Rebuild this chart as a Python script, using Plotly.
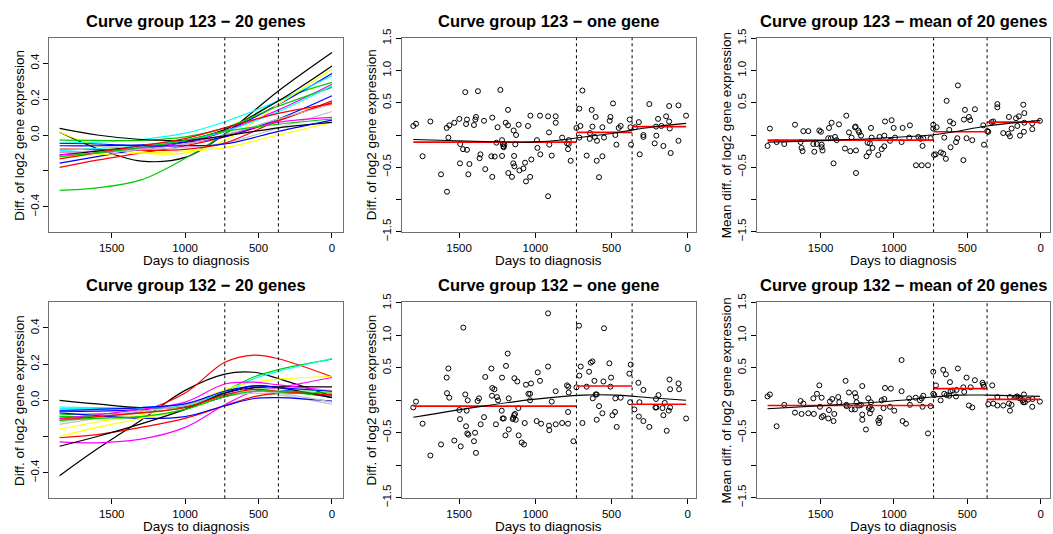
import plotly.graph_objects as go

FONT = "Liberation Sans, Arial, Helvetica, sans-serif"
# R default palette, recycled over the 20 genes
R_COLORS = ["black", "red", "#00CD00", "blue", "cyan", "magenta", "yellow", "#BEBEBE"]
BREAKS = [730, 365]

# fitted curves, curve group 123 (values at CURVE_DAYS_123)
CURVE_DAYS_123 = [1855, 1600, 1300, 1000, 730, 365, 0]
CURVES_123 = [
    [0.015, -0.075, -0.145, -0.125, 0.005, 0.245, 0.459],
    [-0.18, -0.14, -0.10, -0.06, -0.01, 0.08, 0.19],
    [-0.309, -0.295, -0.25, -0.13, 0.005, 0.19, 0.293],
    [-0.157, -0.12, -0.08, -0.04, 0.02, 0.17, 0.343],
    [-0.046, -0.04, -0.025, 0.01, 0.074, 0.19, 0.33],
    [-0.096, -0.09, -0.07, -0.04, 0.02, 0.14, 0.283],
    [0.015, -0.06, -0.10, -0.10, -0.03, 0.17, 0.367],
    [-0.096, -0.09, -0.08, -0.07, -0.045, 0.04, 0.131],
    [-0.111, -0.09, -0.06, -0.03, 0.03, 0.19, 0.385],
    [-0.078, -0.08, -0.085, -0.08, -0.045, 0.08, 0.181],
    [-0.028, -0.03, -0.03, -0.01, 0.04, 0.16, 0.265],
    [-0.06, -0.06, -0.055, -0.04, -0.01, 0.09, 0.219],
    [-0.087, -0.075, -0.06, -0.03, 0.02, 0.13, 0.274],
    [-0.111, -0.10, -0.08, -0.05, 0.0, 0.07, 0.098],
    [-0.124, -0.11, -0.10, -0.09, -0.07, 0.0, 0.07],
    [-0.12, -0.10, -0.08, -0.05, 0.0, 0.09, 0.17],
    [0.037, 0.0, -0.025, -0.03, -0.005, 0.04, 0.07],
    [-0.133, -0.10, -0.06, -0.02, 0.04, 0.12, 0.175],
    [-0.12, -0.10, -0.07, -0.03, 0.02, 0.06, 0.089],
    [-0.046, -0.05, -0.06, -0.06, -0.05, 0.02, 0.083],
]

# fitted curves, curve group 132
CURVE_DAYS_132 = [1855, 1600, 1300, 1000, 730, 530, 365, 0]
CURVES_132 = [
    [-0.417, -0.27, -0.11, 0.055, 0.145, 0.155, 0.12, 0.024],
    [-0.10, -0.09, -0.06, 0.04, 0.21, 0.25, 0.23, 0.13],
    [-0.09, -0.09, -0.09, -0.05, 0.05, 0.13, 0.17, 0.228],
    [-0.06, -0.06, -0.05, -0.03, 0.04, 0.07, 0.06, 0.015],
    [-0.037, -0.04, -0.04, -0.02, 0.04, 0.12, 0.16, 0.231],
    [-0.23, -0.235, -0.215, -0.15, -0.025, 0.05, 0.07, 0.126],
    [-0.16, -0.12, -0.08, -0.03, 0.06, 0.10, 0.117, 0.133],
    [-0.133, -0.10, -0.07, -0.04, 0.02, 0.04, 0.03, -0.022],
    [0.0, -0.02, -0.04, -0.035, 0.02, 0.07, 0.075, 0.074],
    [-0.207, -0.19, -0.15, -0.10, -0.03, 0.02, 0.04, 0.03],
    [-0.08, -0.075, -0.07, -0.04, 0.03, 0.05, 0.045, 0.024],
    [-0.07, -0.085, -0.10, -0.09, -0.03, 0.01, 0.015, -0.004],
    [-0.045, -0.045, -0.045, -0.03, 0.03, 0.06, 0.06, 0.05],
    [-0.10, -0.08, -0.05, -0.01, 0.09, 0.10, 0.085, 0.052],
    [-0.20, -0.15, -0.10, -0.05, 0.03, 0.06, 0.06, 0.056],
    [-0.12, -0.09, -0.06, -0.03, 0.03, 0.05, 0.04, -0.01],
    [-0.254, -0.20, -0.13, -0.05, 0.04, 0.08, 0.07, 0.015],
    [-0.11, -0.09, -0.07, -0.04, 0.03, 0.06, 0.05, 0.03],
    [-0.11, -0.10, -0.09, -0.05, 0.02, 0.05, 0.05, 0.04],
    [-0.055, -0.05, -0.04, -0.02, 0.05, 0.08, 0.07, 0.05],
]

# (days to diagnosis, diff. of log2 expression)
ONE_GENE_123 = [
    (1800, 0.14), (1782, 0.175), (1739, -0.33), (1688, 0.21), (1618, -0.61), (1581, 0.11),
    (1579, -0.88), (1570, -0.04), (1564, 0.15), (1531, 0.19), (1498, 0.25), (1492, -0.14),
    (1474, -0.22), (1494, -0.44), (1459, 0.665), (1454, 0.17), (1448, 0.24), (1448, -0.23),
    (1439, -0.61), (1432, -0.45), (1402, 0.155), (1393, 0.24), (1389, 0.28), (1376, 0.68),
    (1365, -0.36), (1360, -0.30), (1336, 0.22), (1328, -0.53), (1288, -0.33), (1282, 0.27),
    (1282, -0.65), (1266, -0.335), (1255, -0.12), (1247, 0.12), (1229, 0.70), (1218, -0.325),
    (1218, -0.08), (1212, -0.14), (1209, -0.175), (1207, -0.19), (1203, -0.15), (1194, 0.19),
    (1179, 0.39), (1179, 0.15), (1177, -0.59), (1153, -0.65), (1144, -0.44), (1142, 0.07),
    (1139, -0.325), (1137, -0.485), (1131, -0.145), (1126, 0.0), (1109, 0.16), (1104, -0.55),
    (1078, -0.52), (1067, -0.43), (1061, -0.72), (1048, 0.14), (1034, -0.65), (1032, 0.30),
    (1026, -0.38), (989, -0.08), (986, -0.20), (969, 0.30), (967, -0.30), (916, 0.29),
    (916, -0.95), (910, 0.04), (908, -0.15), (892, -0.32), (866, 0.29), (866, 0.19),
    (824, -0.04), (792, -0.13), (781, -0.14), (785, -0.22), (781, -0.08), (768, -0.40),
    (730, 0.11), (711, 0.41), (704, 0.14), (711, -0.04), (691, 0.69), (663, -0.32),
    (643, -0.06), (641, 0.03), (630, 0.39), (625, 0.13), (610, -0.03), (604, 0.28),
    (597, -0.40), (595, -0.09), (582, -0.655), (560, 0.12), (560, -0.33), (549, -0.04),
    (507, 0.28), (512, 0.22), (490, 0.49), (475, 0.0), (468, -0.15), (453, 0.11),
    (440, 0.14), (381, 0.24), (376, 0.12), (372, -0.15), (346, 0.12), (321, 0.20),
    (315, -0.30), (291, 0.0), (291, -0.03), (252, 0.48), (217, -0.13), (208, 0.13),
    (206, -0.01), (195, 0.25), (173, 0.14), (160, -0.17), (142, 0.29), (122, 0.45),
    (122, 0.21), (118, 0.10), (112, -0.28), (61, -0.09), (61, 0.46), (11, 0.30),
]

MEAN_123 = [
    (1862, -0.17), (1846, 0.10), (1800, -0.11), (1748, -0.14), (1675, 0.16), (1637, -0.11),
    (1630, -0.20), (1623, -0.25), (1618, 0.06), (1584, 0.06), (1550, -0.14), (1543, -0.26),
    (1527, -0.14), (1509, 0.07), (1498, 0.05), (1493, -0.15), (1493, -0.19), (1487, -0.24),
    (1448, -0.05), (1443, 0.11), (1430, -0.05), (1425, 0.19), (1412, -0.44), (1402, -0.03),
    (1391, -0.08), (1375, 0.165), (1334, -0.21), (1325, 0.30), (1307, 0.04), (1298, -0.25),
    (1289, -0.04), (1266, 0.12), (1262, 0.13), (1259, -0.24), (1259, -0.59), (1243, 0.07),
    (1237, 0.04), (1225, -0.01), (1180, -0.12), (1171, -0.27), (1164, -0.13), (1187, -0.33),
    (1157, 0.11), (1152, -0.04), (1146, -0.20), (1107, -0.31), (1098, -0.03), (1084, -0.22),
    (1066, -0.01), (1066, -0.175), (1061, 0.21), (1027, -0.09), (1016, 0.23), (1002, 0.11),
    (993, -0.04), (948, -0.11), (941, 0.11), (891, 0.15), (896, -0.04), (850, -0.47),
    (834, -0.03), (818, -0.06), (811, -0.47), (805, -0.17), (800, -0.05), (768, -0.47),
    (750, -0.05), (732, 0.16), (732, 0.10), (727, -0.31), (716, -0.30), (709, 0.12),
    (680, -0.27), (664, -0.29), (657, -0.04), (646, -0.37), (641, 0.53), (623, 0.08),
    (618, 0.21), (614, -0.19), (596, 0.18), (577, -0.11), (568, -0.05), (564, 0.77),
    (527, -0.39), (523, 0.24), (516, 0.39), (505, -0.05), (489, 0.28), (480, 0.23),
    (466, -0.08), (448, 0.40), (391, 0.15), (386, -0.15), (364, 0.06), (357, 0.05),
    (334, 0.20), (323, 0.21), (295, 0.48), (295, 0.43), (255, 0.03), (220, 0.02),
    (216, 0.28), (209, -0.02), (198, 0.10), (168, 0.26), (159, 0.14), (148, 0.29),
    (141, -0.01), (118, 0.47), (111, 0.34), (111, 0.19), (114, 0.05), (57, 0.18),
    (57, 0.09), (5, 0.22),
]

ONE_GENE_132 = [
    (1800, -0.11), (1782, -0.02), (1739, -0.36), (1688, -0.85), (1618, -0.68), (1581, 0.35),
    (1579, 0.11), (1570, 0.49), (1564, 0.04), (1531, -0.62), (1498, -0.15), (1494, -0.29),
    (1489, -0.71), (1472, 1.12), (1459, 0.09), (1454, -0.40), (1450, -0.16), (1446, -0.51),
    (1439, -0.53), (1443, 0.0), (1402, -0.63), (1395, -0.50), (1389, -0.81), (1378, -0.01),
    (1369, 0.03), (1358, -0.37), (1336, -0.26), (1328, 0.36), (1288, 0.49), (1282, 0.19),
    (1268, 0.17), (1284, 0.07), (1258, -0.37), (1251, 0.05), (1244, 0.0), (1220, -0.16),
    (1218, 0.35), (1214, -0.28), (1207, -0.28), (1196, -0.54), (1192, 0.53), (1181, 0.72),
    (1174, 0.03), (1174, -0.45), (1148, -0.29), (1144, -0.27), (1139, -0.23), (1137, 0.34),
    (1133, -0.21), (1128, -0.30), (1118, 0.29), (1111, -0.12), (1109, -0.54), (1089, -0.65),
    (1074, -0.68), (1069, -0.35), (1061, 0.24), (1045, 0.10), (1034, 0.10), (1034, 0.0),
    (1028, 0.26), (991, -0.32), (984, 0.43), (969, 0.30), (962, -0.36), (916, 1.34),
    (916, 0.52), (910, -0.39), (908, -0.46), (892, -0.02), (866, 0.14), (866, -0.37),
    (824, -0.35), (792, 0.23), (783, 0.21), (781, 0.12), (785, -0.18), (785, -0.36),
    (750, -0.63), (730, 0.20), (713, 1.15), (711, 0.38), (702, 0.52), (691, -0.35),
    (663, 0.21), (647, 0.44), (636, 0.58), (625, 0.60), (623, 0.03), (612, 0.30),
    (604, 0.09), (597, 0.09), (597, -0.30), (582, -0.09), (560, -0.20), (549, 1.11),
    (553, 0.29), (507, 0.21), (514, 0.57), (503, 0.35), (494, -0.23), (477, -0.18),
    (475, 0.03), (466, -0.41), (440, 0.04), (383, 0.41), (374, 0.55), (378, -0.03),
    (350, -0.14), (324, 0.27), (317, -0.03), (321, -0.25), (291, 0.16), (291, -0.32),
    (252, -0.41), (208, 0.02), (192, 0.08), (212, -0.11), (206, -0.11), (166, -0.12),
    (160, -0.23), (151, -0.04), (138, -0.47), (125, -0.16), (120, 0.32), (116, 0.17),
    (116, -0.11), (61, 0.26), (57, 0.17), (11, -0.28),
]

MEAN_132 = [
    (1862, 0.06), (1846, 0.09), (1800, -0.40), (1748, -0.07), (1675, -0.19), (1637, -0.01),
    (1618, -0.05), (1630, -0.21), (1584, -0.20), (1546, -0.21), (1550, 0.03), (1525, 0.10),
    (1509, 0.23), (1505, -0.10), (1493, 0.04), (1493, -0.26), (1482, -0.24), (1443, -0.15),
    (1437, -0.02), (1421, 0.02), (1448, -0.28), (1412, -0.32), (1407, -0.21), (1380, 0.05),
    (1373, -0.03), (1330, 0.30), (1325, -0.07), (1323, -0.09), (1307, 0.12), (1289, -0.14),
    (1266, 0.11), (1259, 0.05), (1255, -0.03), (1266, -0.14), (1237, -0.08), (1225, -0.07),
    (1216, 0.22), (1216, -0.22), (1216, -0.30), (1191, -0.45), (1175, 0.03), (1171, -0.12),
    (1164, -0.10), (1157, -0.03), (1152, -0.14), (1164, -0.20), (1107, -0.31), (1102, -0.35),
    (1096, -0.27), (1084, 0.0), (1066, 0.02), (1071, -0.12), (1061, 0.19), (1021, 0.18),
    (1027, -0.10), (998, -0.16), (948, 0.62), (948, 0.14), (941, -0.32), (918, -0.36),
    (896, 0.03), (891, -0.07), (852, 0.04), (823, 0.0), (811, 0.03), (805, -0.10),
    (800, 0.07), (768, -0.51), (750, -0.09), (732, 0.44), (714, 0.23), (732, 0.10),
    (725, 0.08), (682, 0.0), (664, 0.47), (657, 0.10), (646, 0.40), (641, 0.08),
    (623, 0.07), (618, 0.28), (614, 0.14), (600, 0.15), (573, 0.16), (577, 0.06),
    (564, 0.49), (527, 0.20), (521, 0.13), (505, 0.35), (489, -0.08), (477, 0.20),
    (466, -0.11), (448, 0.31), (396, 0.27), (391, 0.24), (386, 0.21), (357, -0.06),
    (330, 0.23), (323, -0.05), (295, 0.05), (295, -0.08), (255, -0.08), (216, -0.05),
    (209, 0.05), (198, -0.07), (209, -0.16), (168, 0.05), (159, 0.06), (150, 0.04),
    (141, 0.03), (123, 0.0), (114, 0.09), (118, -0.03), (107, -0.03), (86, 0.01),
    (57, -0.10), (55, 0.02), (5, -0.02),
]

# interval means (red steps): [start..730], [730..365], [365..end]
STEP_123_ONE = [-0.11, 0.04, 0.13]
STEP_123_MEAN = [-0.08, 0.05, 0.20]
STEP_132_ONE = [-0.09, 0.22, -0.06]
STEP_132_MEAN = [-0.08, 0.18, 0.015]

# smooth fit (black) through the points
SMOOTH_123_ONE = [(1800, -0.07), (1340, -0.10), (1035, -0.11), (795, -0.07), (685, -0.03),
                  (510, 0.02), (357, 0.08), (182, 0.14), (11, 0.18)]
SMOOTH_123_MEAN = [(1862, -0.11), (1400, -0.08), (950, -0.03), (740, 0.0), (590, 0.05),
                   (365, 0.14), (0, 0.23)]
SMOOTH_132_ONE = [(1800, -0.26), (1340, -0.09), (1013, 0.015), (685, 0.08), (466, 0.08),
                  (247, 0.04), (11, 0.0)]
SMOOTH_132_MEAN = [(1862, -0.13), (1400, -0.07), (948, 0.0), (739, 0.05), (550, 0.08),
                   (364, 0.08), (5, 0.06)]

TITLES = [
    "Curve group 123 \u2212 20 genes", "Curve group 123 \u2212 one gene", "Curve group 123 \u2212 mean of 20 genes",
    "Curve group 132 \u2212 20 genes", "Curve group 132 \u2212 one gene", "Curve group 132 \u2212 mean of 20 genes",
]
YTITLES = ["Diff. of log2 gene expression", "Diff. of log2 gene expression",
           "Mean diff. of log2 gene expression"]

W, H = 1053, 534
COLS = [(49.3, 343.3), (401.7, 695.7), (756.7, 1050.0)]
ROWS = [(37.7, 232.3), (302.3, 498.3)]
XRANGES = [[1925, -77], [1876, -52], [1936, -64]]

fig = go.Figure()
annotations = []
shapes = []
layout_axes = {}

scatter_sets = {1: (ONE_GENE_123, STEP_123_ONE, SMOOTH_123_ONE),
                2: (MEAN_123, STEP_123_MEAN, SMOOTH_123_MEAN),
                4: (ONE_GENE_132, STEP_132_ONE, SMOOTH_132_ONE),
                5: (MEAN_132, STEP_132_MEAN, SMOOTH_132_MEAN)}

for i in range(6):
    r, c = divmod(i, 3)
    n = i + 1
    suffix = "" if n == 1 else str(n)
    xa, ya = "x" + suffix, "y" + suffix
    x0, x1 = COLS[c]
    top, bot = ROWS[r]
    xdom = [x0 / W, x1 / W]
    ydom = [1 - bot / H, 1 - top / H]

    if c == 0:
        days, curves = (CURVE_DAYS_123, CURVES_123) if r == 0 else (CURVE_DAYS_132, CURVES_132)
        for k, vals in enumerate(curves):
            fig.add_trace(go.Scatter(x=days, y=vals, mode="lines", xaxis=xa, yaxis=ya,
                                     line=dict(color=R_COLORS[k % 8], width=1.2, shape="spline", smoothing=1.0),
                                     showlegend=False, hoverinfo="skip"))
        yrange = [-0.542, 0.542]
        ytv = [-0.4, -0.2, 0, 0.2, 0.4]
        ytt = ["\u22120.4", "", "0.0", "0.2", "0.4"]
    else:
        pts, steps, smooth = scatter_sets[i]
        px = [p[0] for p in pts]
        py = [p[1] for p in pts]
        fig.add_trace(go.Scatter(x=px, y=py, mode="markers", xaxis=xa, yaxis=ya,
                                 marker=dict(symbol="circle-open", size=5, color="black", line=dict(width=1)),
                                 showlegend=False, hoverinfo="skip"))
        edges = [max(px), BREAKS[0], BREAKS[1], min(px)]
        for s in range(3):
            fig.add_trace(go.Scatter(x=[edges[s], edges[s + 1]], y=[steps[s], steps[s]], mode="lines",
                                     xaxis=xa, yaxis=ya, line=dict(color="red", width=1.6),
                                     showlegend=False, hoverinfo="skip"))
        fig.add_trace(go.Scatter(x=[p[0] for p in smooth], y=[p[1] for p in smooth], mode="lines",
                                 xaxis=xa, yaxis=ya,
                                 line=dict(color="black", width=1.1, shape="spline", smoothing=1.0),
                                 showlegend=False, hoverinfo="skip"))
        yrange = [-1.51, 1.51]
        ytv = [-1.5, -1.0, -0.5, 0, 0.5, 1.0, 1.5]
        ytt = ["\u22121.5", "", "\u22120.5", "", "0.5", "1.0", "1.5"]

    for b in BREAKS:
        shapes.append(dict(type="line", xref=xa, yref=ya + " domain", x0=b, x1=b, y0=0, y1=1,
                           line=dict(color="black", width=1, dash="3px,3px")))

    axis_common = dict(showgrid=False, zeroline=False, showline=True, mirror=True,
                       linecolor="#707070", linewidth=1.2, ticks="outside", ticklen=5,
                       tickcolor="black", tickwidth=1,
                       tickfont=dict(family=FONT, size=11.5, color="black"))
    layout_axes["xaxis" + suffix] = dict(domain=xdom, range=XRANGES[c], anchor=ya,
                                         tickvals=[1500, 1000, 500, 0], ticktext=["1500", "1000", "500", "0"],
                                         **axis_common)
    layout_axes["yaxis" + suffix] = dict(domain=ydom, range=yrange, anchor=xa,
                                         tickvals=ytv, ticktext=ytt, tickangle=-90, **axis_common)

    xc = (x0 + x1) / 2
    annotations.append(dict(text="<b>" + TITLES[i] + "</b>", x=xc / W, y=1 - (top - 17) / H,
                            xref="paper", yref="paper", showarrow=False, xanchor="center", yanchor="middle",
                            font=dict(family=FONT, size=16.5, color="black")))
    annotations.append(dict(text="Days to diagnosis", x=xc / W, y=1 - (bot + 28.5) / H,
                            xref="paper", yref="paper", showarrow=False, xanchor="center", yanchor="middle",
                            font=dict(family=FONT, size=13.5, color="black")))
    annotations.append(dict(text=YTITLES[c], x=(x0 - 30.5) / W, y=1 - ((top + bot) / 2) / H,
                            xref="paper", yref="paper", showarrow=False, textangle=-90,
                            xanchor="center", yanchor="middle",
                            font=dict(family=FONT, size=13.5, color="black")))

fig.update_layout(width=W, height=H, margin=dict(l=0, r=0, t=0, b=0, autoexpand=False),
                  paper_bgcolor="white", plot_bgcolor="white",
                  annotations=annotations, shapes=shapes, **layout_axes)

fig.write_html("out.html", config={"displayModeBar": False},
               post_script="document.body.style.margin='0px';")
